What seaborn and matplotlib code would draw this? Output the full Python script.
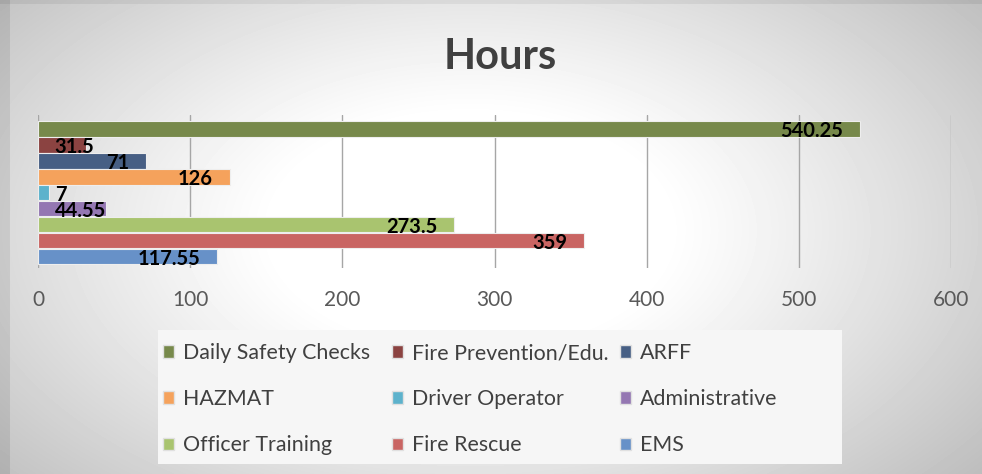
import numpy as np
import pandas as pd
import matplotlib
matplotlib.use("Agg")
import matplotlib.pyplot as plt
import seaborn as sns
from matplotlib.patches import Patch, Rectangle

# chart data
categories = ["Daily Safety Checks", "Fire Prevention/Edu.", "ARFF", "HAZMAT",
              "Driver Operator", "Administrative", "Officer Training",
              "Fire Rescue", "EMS"]
hours = [540.25, 31.5, 71, 126, 7, 44.55, 273.5, 359, 117.55]
labels = ["540.25", "31.5", "71", "126", "7", "44.55", "273.5", "359", "117.55"]
colors = ["#77894b", "#8b4341", "#475f84", "#f5a25c", "#5db2cc",
          "#9477b2", "#a9c46f", "#c96563", "#6791c8"]
ticks = [0, 100, 200, 300, 400, 500, 600]

df = pd.DataFrame({"category": categories, "hours": hours})

sns.set_theme(style="white")
plt.rcParams["font.family"] = ["Lato", "DejaVu Sans"]

W, H = 982, 474
fig = plt.figure(figsize=(W / 100, H / 100), dpi=100)

# radial gray background like the Office slide
bg = fig.add_axes([0, 0, 1, 1], zorder=-10)
yy, xx = np.mgrid[0:H, 0:W]
r = np.sqrt(((xx - 470) / 560.0) ** 2 + ((yy - 230) / 330.0) ** 2)
shade = np.clip(1.0 - 0.32 * np.clip(r - 0.35, 0, None) ** 1.1, 0.72, 1.0)
shade[:, :10] -= 0.07
shade[:4, :] -= 0.05
bg.imshow(shade, cmap="gray", vmin=0, vmax=1, aspect="auto")
bg.axis("off")

ax = fig.add_axes([38 / W, 1 - 268 / H, 913 / W, 153 / H])
ax.patch.set_alpha(0)

sns.barplot(data=df, x="hours", y="category", hue="category", palette=colors,
            saturation=1, orient="h", width=0.94, legend=False, ax=ax,
            zorder=3, edgecolor="#eeeeee", linewidth=0.8)

ax.set_xlim(0, 600)
ax.set_ylim(8.69, -0.875)
ax.set_xticks(ticks)
ax.set_xticklabels([str(t) for t in ticks], fontsize=15, color="#595959")
ax.tick_params(axis="x", length=0, pad=16)
ax.set_yticks([])
ax.set_xlabel("")
ax.set_ylabel("")
for s in ax.spines.values():
    s.set_visible(False)
for t in ticks:
    ax.axvline(t, color="#a6a6a6", lw=1.0, zorder=1)

# data labels
for i, (v, lab) in enumerate(zip(hours, labels)):
    if v < 50:
        ax.annotate(lab, (0, i), xytext=(12, -1.5), textcoords="offset points",
                    ha="left", va="center", fontsize=14.5, fontweight="bold",
                    color="black", zorder=5)
    else:
        ax.annotate(lab, (v, i), xytext=(-12, -1.5), textcoords="offset points",
                    ha="right", va="center", fontsize=14.5, fontweight="bold",
                    color="black", zorder=5)

fig.text(0.509, 0.88, "Hours", ha="center", va="center", fontsize=30,
         fontweight="bold", color="#404040")

# legend box and three equal-width columns
fig.patches.append(Rectangle((158 / W, 1 - 464 / H), 684 / W, 134 / H,
                             transform=fig.transFigure, facecolor="#f6f6f6",
                             edgecolor="none", zorder=-5))
col_x = [163, 392, 620]
for c in range(3):
    idx = [c, c + 3, c + 6]
    handles = [Patch(facecolor=colors[i], edgecolor="#e0e0e0",
                     label=categories[i]) for i in idx]
    leg = fig.legend(handles=handles, loc="upper left",
                     bbox_to_anchor=(col_x[c] / W, 1 - 343 / H),
                     frameon=False, fontsize=15.4, borderpad=0,
                     borderaxespad=0, handlelength=0.5, handleheight=0.5,
                     handletextpad=0.45, labelspacing=1.22)
    for t in leg.get_texts():
        t.set_color("#404040")

fig.savefig("out.png", dpi=100)
